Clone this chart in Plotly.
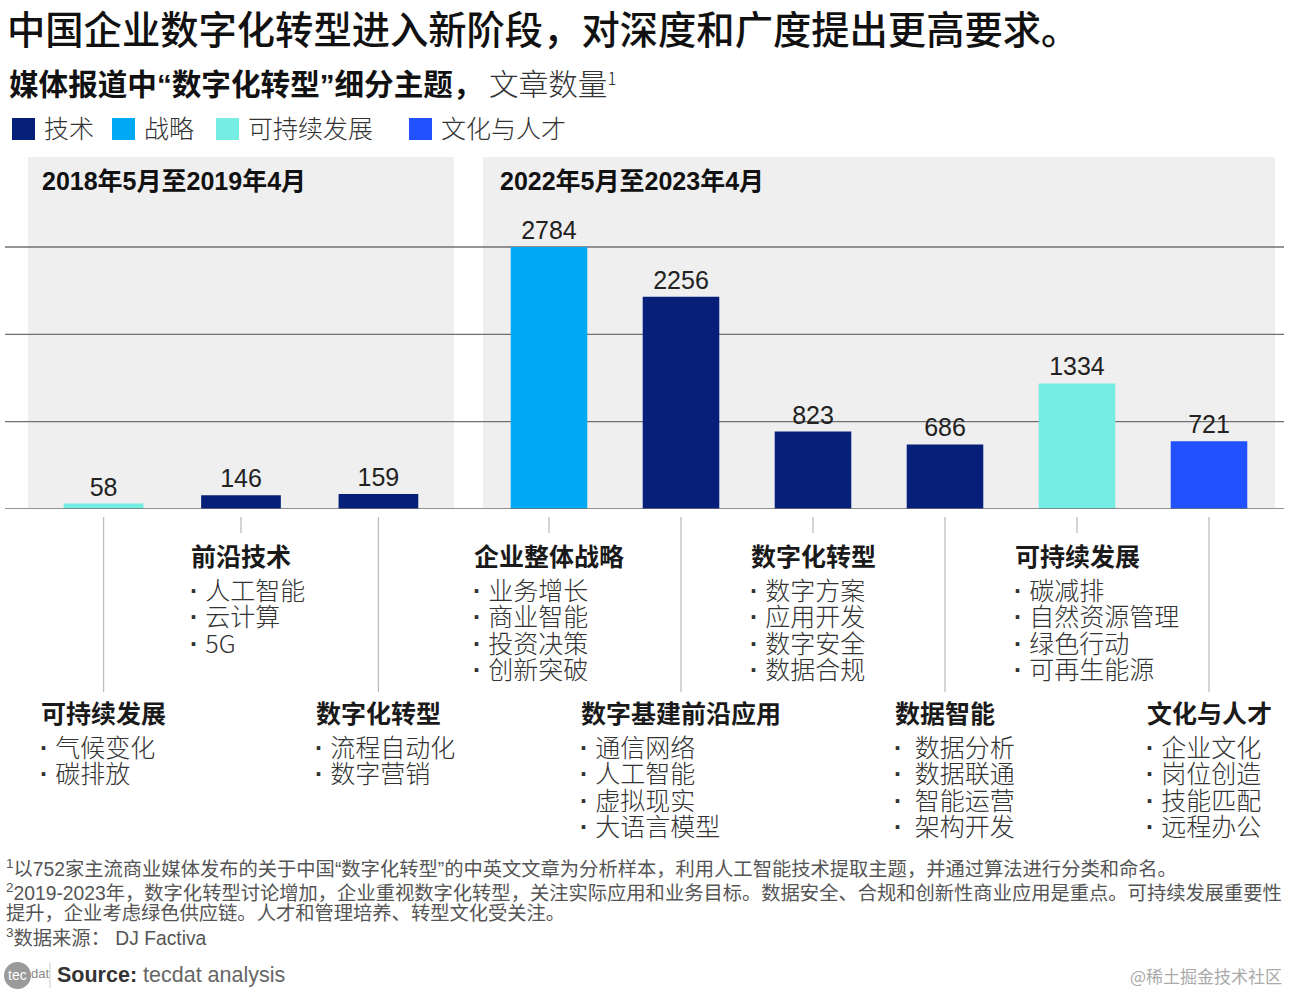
import plotly.graph_objects as go

W, H = 1290, 992

# ---------------- data ----------------
title_text = "中国企业数字化转型进入新阶段，对深度和广度提出更高要求。"
subtitle_parts = ["媒体报道中", "“", "数字化转型", "”", "细分主题，"]
subtitle_rest = "文章数量"

legend_groups = ["技术", "战略", "可持续发展", "文化与人才"]
legend_colors = ["#06207a", "#00a9f4", "#76ede2", "#2251ff"]

period_labels = ["2018年5月至2019年4月", "2022年5月至2023年4月"]

cats_2018 = ["可持续发展", "前沿技术", "数字化转型"]
vals_2018 = [58, 146, 159]
grp_2018 = ["可持续发展", "技术", "技术"]
items_2018 = [
    ["气候变化", "碳排放"],
    ["人工智能", "云计算", "5G"],
    ["流程自动化", "数字营销"],
]

cats_2023 = ["企业整体战略", "数字基建前沿应用", "数字化转型", "数据智能", "可持续发展", "文化与人才"]
vals_2023 = [2784, 2256, 823, 686, 1334, 721]
grp_2023 = ["战略", "技术", "技术", "技术", "可持续发展", "文化与人才"]
items_2023 = [
    ["业务增长", "商业智能", "投资决策", "创新突破"],
    ["通信网络", "人工智能", "虚拟现实", "大语言模型"],
    ["数字方案", "应用开发", "数字安全", "数据合规"],
    [" 数据分析", " 数据联通", " 智能运营", " 架构开发"],
    ["碳减排", "自然资源管理", "绿色行动", "可再生能源"],
    ["企业文化", "岗位创造", "技能匹配", "远程办公"],
]

grid_values = [928, 1856, 2784]

footnote_lines = [
    "<sup>1</sup>以752家主流商业媒体发布的关于中国“数字化转型”的中英文文章为分析样本，利用人工智能技术提取主题，并通过算法进行分类和命名。",
    "<sup>2</sup>2019-2023年，数字化转型讨论增加，企业重视数字化转型，关注实际应用和业务目标。数据安全、合规和创新性商业应用是重点。可持续发展重要性",
    "提升，企业考虑绿色供应链。人才和管理培养、转型文化受关注。",
    "<sup>3</sup>数据来源： DJ Factiva",
]
source_bold = "Source:"
source_rest = "tecdat analysis"
watermark = "@稀土掘金技术社区"

# ---------------- helpers / styles ----------------
CJK = "Noto Sans CJK SC"
LAT = "Liberation Sans, Arial, " + CJK
NARROW = "Liberation Sans Narrow, Arial Narrow, Liberation Sans, " + CJK
color_of = dict(zip(legend_groups, legend_colors))
LSPAN = "<span style='font-family:Liberation Sans'>"


def px_x(x):
    return x / W


def px_y(y):
    return 1 - y / H


fig = go.Figure()

panels = [
    dict(cats=cats_2018, vals=vals_2018, grp=grp_2018, items=items_2018,
         xa="x", first_tier="low"),
    dict(cats=cats_2023, vals=vals_2023, grp=grp_2023, items=items_2023,
         xa="x2", first_tier="high"),
]

for p in panels:
    fig.add_trace(go.Bar(
        x=p["cats"], y=p["vals"], xaxis=p["xa"], yaxis="y",
        marker=dict(color=[color_of[g] for g in p["grp"]], line=dict(width=0)),
        text=[str(v) for v in p["vals"]], textposition="outside",
        textfont=dict(family=LAT, size=25, color="#222222"),
        constraintext="none", cliponaxis=False, showlegend=False,
        hoverinfo="skip",
    ))

shapes = []
annotations = []

# gridlines + baseline
for g in grid_values:
    shapes.append(dict(type="line", xref="paper", yref="y", x0=px_x(5), x1=px_x(1284),
                       y0=g, y1=g, line=dict(color="#707070", width=1.3), layer="below"))
shapes.append(dict(type="line", xref="paper", yref="y", x0=px_x(5), x1=px_x(1284),
                   y0=0, y1=0, line=dict(color="#707070", width=1.5), layer="above"))

# category labels, connectors
TITLE_Y = {"high": 555, "low": 712}
ITEM_Y0 = {"high": 589, "low": 746}
LINE_END = {"high": 533, "low": 692}
STEP = 26.3
CH = 25  # char width of 25px CJK

for p in panels:
    tier = p["first_tier"]
    for cat, items in zip(p["cats"], p["items"]):
        shapes.append(dict(type="line", xref=p["xa"], yref="paper", x0=cat, x1=cat,
                           y0=px_y(517), y1=px_y(LINE_END[tier]),
                           line=dict(color="#bdbdbd", width=1.3)))
        annotations.append(dict(xref=p["xa"], yref="paper", x=cat, y=px_y(TITLE_Y[tier]),
                                text="<b>" + cat + "</b>", showarrow=False,
                                xanchor="center", yanchor="middle",
                                font=dict(family=CJK, size=25, color="#1a1a1a")))
        for j, it in enumerate(items):
            annotations.append(dict(xref=p["xa"], yref="paper", x=cat,
                                    y=px_y(ITEM_Y0[tier] + j * STEP),
                                    xshift=-len(cat) * CH / 2 - 3,
                                    text=LSPAN + "<b>·</b> </span>" + it, showarrow=False,
                                    xanchor="left", yanchor="middle",
                                    font=dict(family=CJK, size=25, color="#333333",
                                              weight=300)))
        tier = "low" if tier == "high" else "high"

# panel headers
for lbl, xpx in zip(period_labels, [40, 498]):
    annotations.append(dict(xref="paper", yref="paper", x=px_x(xpx), y=px_y(181),
                            text="<b>" + lbl + "</b>", showarrow=False,
                            xanchor="left", yanchor="middle",
                            font=dict(family=NARROW, size=25, color="#111111")))

# title & subtitle
annotations.append(dict(xref="paper", yref="paper", x=px_x(5), y=px_y(27),
                        text=title_text, showarrow=False, xanchor="left", yanchor="middle",
                        font=dict(family=CJK, size=38.3, color="#111111", weight=500)))
sub_html = "".join(LSPAN + s + "</span>" if s in ("“", "”") else s for s in subtitle_parts)
annotations.append(dict(xref="paper", yref="paper", x=px_x(7), y=px_y(83),
                        text="<b>" + sub_html + "</b><span style='font-weight:300;color:#333'> "
                             + subtitle_rest + "</span><span style='font-size:24px;font-weight:300'><sup>1</sup></span>",
                        showarrow=False, xanchor="left", yanchor="middle",
                        font=dict(family=CJK, size=29.6, color="#111111")))

# legend
legend_x = [12, 112, 216, 409]
for g, c, lx in zip(legend_groups, legend_colors, legend_x):
    shapes.append(dict(type="rect", xref="paper", yref="paper",
                       x0=px_x(lx), x1=px_x(lx + 23), y0=px_y(140), y1=px_y(118),
                       fillcolor=c, line=dict(width=0)))
    annotations.append(dict(xref="paper", yref="paper", x=px_x(lx + 30), y=px_y(127),
                            text=g, showarrow=False, xanchor="left", yanchor="middle",
                            font=dict(family=CJK, size=25, color="#333333", weight=300)))

# footnotes
for line, ypx in zip(footnote_lines, [868, 892, 913, 937]):
    annotations.append(dict(xref="paper", yref="paper", x=px_x(4), y=px_y(ypx),
                            text=line, showarrow=False, xanchor="left", yanchor="middle",
                            font=dict(family=NARROW, size=19.3, color="#555555")))

# source row
shapes.append(dict(type="circle", xref="paper", yref="paper",
                   x0=px_x(4), x1=px_x(31), y0=px_y(989), y1=px_y(962),
                   fillcolor="#9a9a9a", line=dict(width=0)))
annotations.append(dict(xref="paper", yref="paper", x=px_x(17.5), y=px_y(975), text="tec",
                        showarrow=False, xanchor="center", yanchor="middle",
                        font=dict(family=NARROW, size=14, color="#ffffff")))
annotations.append(dict(xref="paper", yref="paper", x=px_x(29), y=px_y(973), text="dat",
                        showarrow=False, xanchor="left", yanchor="middle",
                        font=dict(family=NARROW, size=13, color="#8a8a8a")))
shapes.append(dict(type="line", xref="paper", yref="paper",
                   x0=px_x(50), x1=px_x(50), y0=px_y(988), y1=px_y(962),
                   line=dict(color="#cccccc", width=1)))
annotations.append(dict(xref="paper", yref="paper", x=px_x(55), y=px_y(975),
                        text="<b>" + source_bold + "</b> <span style='color:#666'>" + source_rest + "</span>",
                        showarrow=False, xanchor="left", yanchor="middle",
                        font=dict(family=LAT, size=21.5, color="#333333")))
annotations.append(dict(xref="paper", yref="paper", x=px_x(1284), y=px_y(975), text=watermark,
                        showarrow=False, xanchor="right", yanchor="middle",
                        font=dict(family=CJK, size=17, color="#aaaaaa")))

axis_common = dict(showticklabels=False, showgrid=False, zeroline=False, showline=False,
                   ticks="", fixedrange=True)
fig.update_layout(
    width=W, height=H, margin=dict(l=0, r=0, t=0, b=0),
    paper_bgcolor="#ffffff", plot_bgcolor="#efefef",
    bargap=0.42, showlegend=False,
    xaxis=dict(domain=[px_x(28), px_x(454)], range=[-0.55, 2.55], anchor="y", **axis_common),
    xaxis2=dict(domain=[px_x(483), px_x(1275)], range=[-0.5, 5.5], anchor="y", **axis_common),
    yaxis=dict(domain=[px_y(509), px_y(157)], range=[0, 3740], visible=False, fixedrange=True),
    shapes=shapes, annotations=annotations,
)

fig.write_html("out.html", config={"displayModeBar": False},
               post_script="document.body.style.margin='0';document.body.style.overflow='hidden';")
